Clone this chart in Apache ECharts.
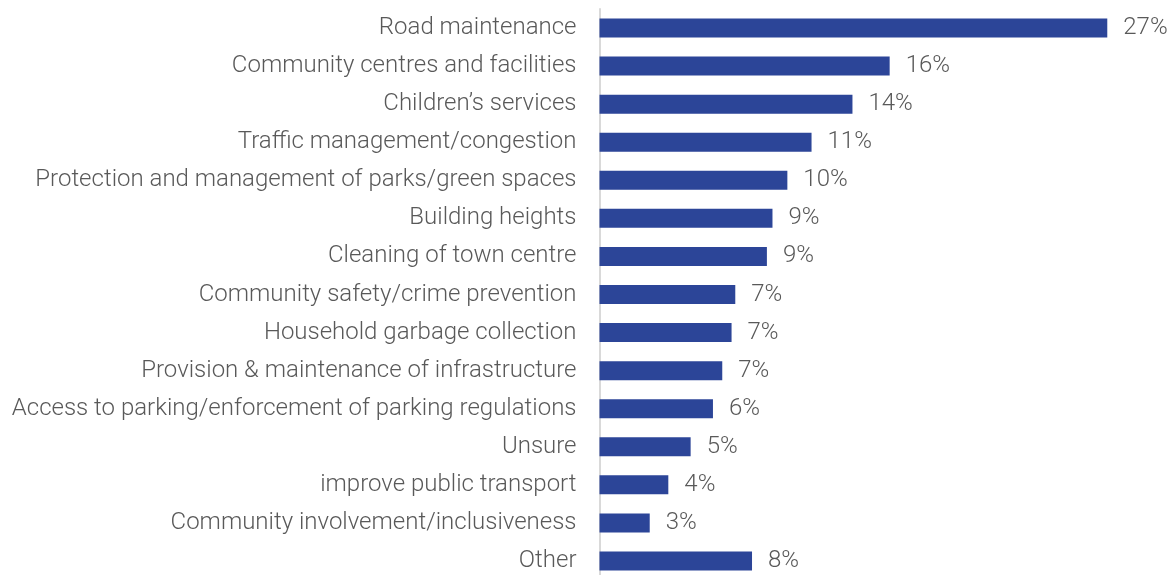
<!DOCTYPE html>
<html>
<head>
<meta charset="utf-8">
<script src="https://cdn.jsdelivr.net/npm/echarts@6/dist/echarts.min.js"></script>
<style>
html,body{margin:0;padding:0;background:#fff;}
#c{width:1174px;height:575px;}
</style>
</head>
<body>
<div id="c"></div>
<script>
const categories = [
  "Road maintenance",
  "Community centres and facilities",
  "Children’s services",
  "Traffic management/congestion",
  "Protection and management of parks/green spaces",
  "Building heights",
  "Cleaning of town centre",
  "Community safety/crime prevention",
  "Household garbage collection",
  "Provision & maintenance of infrastructure",
  "Access to parking/enforcement of parking regulations",
  "Unsure",
  "improve public transport",
  "Community involvement/inclusiveness",
  "Other"
];
const values = [27.3, 15.6, 13.6, 11.4, 10.1, 9.3, 9.0, 7.3, 7.1, 6.6, 6.1, 4.9, 3.7, 2.7, 8.2];

const chart = echarts.init(document.getElementById('c'), null, {renderer: 'canvas'});
const font = 'Roboto';
chart.setOption({
  animation: false,
  grid: {left: 599.5, top: 9, width: 558, height: 571, containLabel: false, outerBoundsMode: 'none'},
  xAxis: {
    type: 'value', min: 0, max: 30,
    show: false
  },
  yAxis: {
    type: 'category', data: categories, inverse: true,
    axisLine: {show: true, lineStyle: {color: '#d9d9d9', width: 2}},
    axisTick: {show: false},
    splitLine: {show: false},
    axisLabel: {
      margin: 23, color: '#595959', fontFamily: font, fontWeight: 300, fontSize: 24
    }
  },
  series: [{
    type: 'bar', data: values, barWidth: 19,
    itemStyle: {color: '#2C4598'},
    label: {
      show: true, position: 'right', distance: 16,
      color: '#595959', fontFamily: font, fontWeight: 300, fontSize: 24,
      formatter: p => Math.round(p.value) + '%'
    }
  }]
});
</script>
</body>
</html>
